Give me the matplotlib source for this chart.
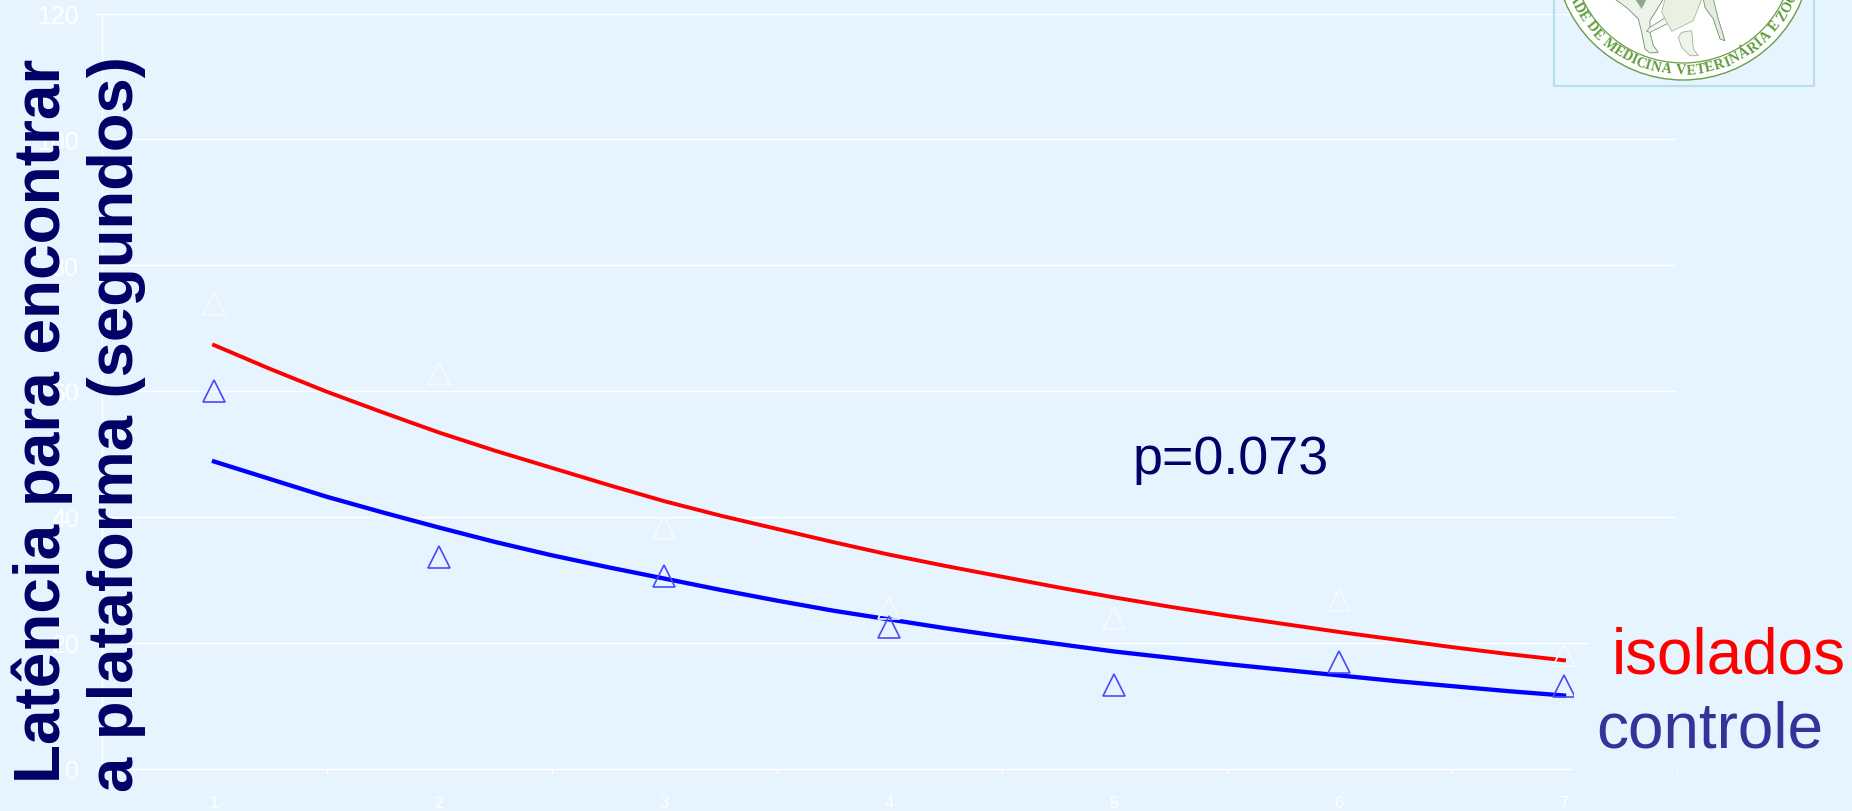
import numpy as np
import matplotlib
matplotlib.use('Agg')
import matplotlib.pyplot as plt
from matplotlib.font_manager import FontProperties
from matplotlib.patches import Circle, Rectangle, Polygon
from matplotlib.textpath import TextPath

plt.rcParams['font.family'] = ['Liberation Sans', 'DejaVu Sans']

W, H = 1852, 812
BG = '#E5F4FF'

# valores
dias = [1, 2, 3, 4, 5, 6, 7]
isolados = [73.8, 62.7, 38.2, 25.5, 23.9, 26.8, 18.0]
controle = [60.0, 33.6, 30.6, 22.5, 13.3, 17.0, 13.1]
curva_x = [1, 1.25, 1.5, 1.75, 2, 2.25, 2.5, 2.75, 3, 3.25, 3.5, 3.75, 4,
           4.25, 4.5, 4.75, 5, 5.25, 5.5, 5.75, 6, 6.25, 6.5, 6.75, 7]
curva_isolados = [67.3, 63.5, 59.9, 56.6, 53.4, 50.5, 47.8, 45.1, 42.5, 40.2, 38.1, 36.0, 34.0,
                  32.2, 30.5, 28.8, 27.2, 25.7, 24.3, 23.0, 21.7, 20.5, 19.3, 18.2, 17.2]
curva_controle = [48.8, 46.0, 43.2, 40.7, 38.3, 36.0, 33.9, 32.0, 30.2, 28.4, 26.7, 25.1, 23.7,
                  22.3, 21.0, 19.8, 18.6, 17.6, 16.6, 15.7, 14.8, 13.9, 13.1, 12.3, 11.6]
y_ticks = [0, 20, 40, 60, 80, 100, 120]
logo_txt = 'ADE DE MEDICINA VETERINÁRIA E ZOO'

fig = plt.figure(figsize=(W / 100, H / 100), dpi=100, facecolor=BG)
ax = fig.add_axes([101.5 / W, 1 - 769.5 / H, (1676.5 - 101.5) / W, (769.5 - 14.5) / H])
ax.set_facecolor(BG)
ax.set_xlim(0.5, 7.5)
ax.set_ylim(0, 120)
for s in ['top', 'right']:
    ax.spines[s].set_visible(False)
for s in ['left', 'bottom']:
    ax.spines[s].set_color('white')
    ax.spines[s].set_linewidth(1.0)
ax.set_yticks(y_ticks)
ax.set_xticks(dias)
ax.set_xticks(np.arange(0.5, 8, 1), minor=True)
ax.tick_params(axis='x', which='major', length=0, labelsize=12, labelcolor='white', pad=19)
ax.tick_params(axis='x', which='minor', length=3.5, color='white', width=0.9)
ax.tick_params(axis='y', length=5, color='white', width=1.0, labelsize=18, labelcolor='white', pad=11)
ax.grid(axis='y', color='white', lw=1.0)
ax.set_axisbelow(True)

ax.plot(curva_x, curva_isolados, color='#FF0000', lw=2.8)
ax.plot(curva_x, curva_controle, color='#0000FF', lw=3.1)
ax.plot(dias, isolados, ls='', marker='^', ms=15.5, mfc='none', mec='#F5FAFF', mew=1.2, clip_on=False)
ax.plot(dias, controle, ls='', marker='^', ms=15.5, mfc='none', mec='#4A4AF5', mew=1.2, clip_on=False)

# sobreposicao: caixas de texto e logo, em pixels da figura
ov = fig.add_axes([0, 0, 1, 1], facecolor='none')
ov.set_xlim(0, W)
ov.set_ylim(H, 0)
ov.axis('off')

ov.add_patch(Rectangle((1590, 630), 262, 60, fc=BG, ec='none'))
ov.add_patch(Rectangle((1574, 690), 278, 82, fc=BG, ec='none'))

ov.text(1612, 674, 'isolados', color='#FF0000', fontsize=46, ha='left', va='baseline')
ov.text(1596, 748, 'controle', color='#333399', fontsize=46, ha='left', va='baseline')
ov.text(1133, 474, 'p=0.073', color='#000066', fontsize=38.8, ha='left', va='baseline')

ov.text(60, 421, 'Latência para encontrar', color='#000066', fontsize=46, fontweight='bold',
        rotation=90, ha='center', va='baseline', rotation_mode='anchor')
ov.text(133, 424, 'a plataforma (segundos)', color='#000066', fontsize=45.6, fontweight='bold',
        rotation=90, ha='center', va='baseline', rotation_mode='anchor')

# logo
ov.add_patch(Rectangle((1554, -5), 260, 92, fc='none', ec='#B9E0EA', lw=1.6))
cx, cy, r = 1683, -47, 128
ov.add_patch(Circle((cx, cy), r, fc='white', ec='#6A9E45', lw=1))
ov.add_patch(Circle((cx, cy), 111, fc='white', ec='#6A9E45', lw=0.9))

# letras ao longo do arco, espacadas pela largura de cada uma
fp = FontProperties(family='Liberation Serif', weight='bold', size=10.2)
larg = [4 if c == ' ' else TextPath((0, 0), c, prop=fp).get_extents().width * 100 / 72 + 0.9 for c in logo_txt]
total = sum(larg)
pos = 0
for ch, w in zip(logo_txt, larg):
    ang = np.pi / 2 + (total / 2 - (pos + w / 2)) / 118
    ov.text(cx + 118 * np.cos(ang), cy + 118 * np.sin(ang), ch, fontproperties=fp, color='#5E9A3C',
            rotation=90 - np.rad2deg(ang), ha='center', va='center', rotation_mode='anchor')
    pos += w


def zp(pts):
    return [(1550 + x / 3, y / 3) for x, y in pts]


# figuras do cavalo e da pessoa, so o contorno geral
ov.add_patch(Polygon(zp([(195, 0), (235, 30), (265, 60), (275, 100), (285, 150), (300, 162), (325, 160),
                         (310, 140), (300, 100), (300, 65), (340, 0)]), fc='#EDF3EA', ec='#6F8F6A', lw=0.6))
ov.add_patch(Polygon(zp([(355, 50), (300, 85), (290, 97), (300, 100), (360, 70)]),
                     fc='#F3F7F0', ec='#7E9A78', lw=0.6))
ov.add_patch(Polygon(zp([(345, 0), (335, 40), (365, 97), (430, 65), (455, 0)]),
                     fc='#EAF1E3', ec='#A6BC9A', lw=0.6))
ov.add_patch(Polygon(zp([(385, 115), (395, 145), (420, 170), (445, 170), (430, 150), (425, 95), (395, 100)]),
                     fc='#EFF4EB', ec='#9DB58F', lw=0.6))
ov.add_patch(Polygon(zp([(465, 25), (490, 60), (510, 120), (525, 125), (505, 60), (490, 0), (460, 0)]),
                     fc='#E3ECDD', ec='#6F8F6A', lw=0.6))
ov.add_patch(Polygon(zp([(255, 0), (275, 30), (290, 0)]), fc='#8FA888', ec='none'))

fig.savefig('out.png', dpi=100, facecolor=BG)
